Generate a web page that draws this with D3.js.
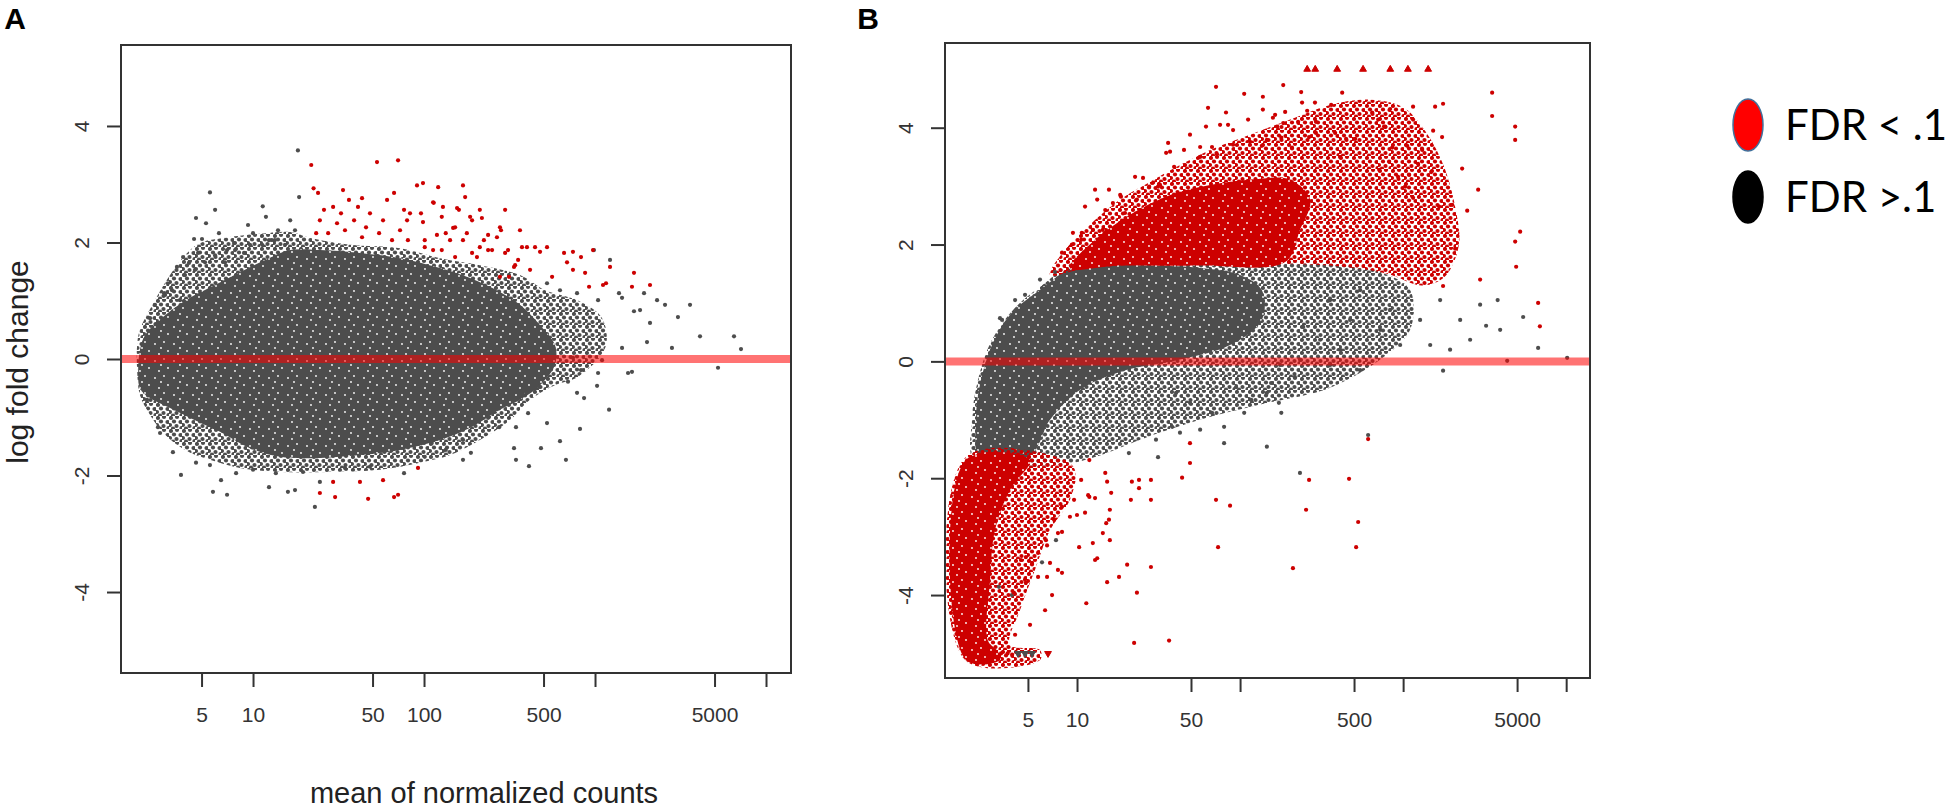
<!DOCTYPE html>
<html>
<head>
<meta charset="utf-8">
<script src="https://cdn.jsdelivr.net/npm/d3@7"></script>
<style>
  body { margin: 0; background: #fff; }
  svg { display: block; }
</style>
</head>
<body>
<div id="chart"></div>
<script>
// axis values
const x_ticks = [5, 10, 50, 100, 500, 1000, 5000, 10000];
const x_labels_a = [5, 10, 50, 100, 500, 5000];
const x_labels_b = [5, 10, 50, 500, 5000];
const y_ticks = [-4, -2, 0, 2, 4];

// panel A: [mean count, log fold change]
const a_gray_outer = [[2.18,0.50],[2.67,1.01],[3.27,1.44],[4.0,1.78],[4.9,1.99],[6.86,2.08],[11,2.15],[16.5,2.18],
  [21.5,2.08],[36.9,1.96],[72.4,1.90],[124,1.73],[212,1.61],[364,1.44],[510,1.18],[800,1.0],[1100,0.7],[1150,0.2],
  [800,-0.3],[583,-0.45],[417,-0.70],[318,-1.05],[212,-1.39],[142,-1.65],[94.7,-1.78],[55.3,-1.90],[28.2,-1.94],
  [14.4,-1.94],[8.39,-1.87],[5.6,-1.73],[4.0,-1.56],[3.06,-1.30],[2.5,-0.96],[2.18,-0.62],[2.1,-0.19],[2.1,0.24]];
const a_gray_core = [[2.34,0.41],[3.06,0.75],[4.28,1.05],[6.0,1.27],[8.39,1.49],[11.8,1.70],[16.5,1.87],[24.6,1.87],
  [42.2,1.82],[72.4,1.73],[124,1.56],[186,1.39],[278,1.15],[364,0.93],[477,0.58],[583,0.24],[583,-0.10],[477,-0.45],
  [364,-0.70],[278,-0.87],[186,-1.18],[124,-1.39],[72.4,-1.56],[42.2,-1.65],[24.6,-1.70],[14.4,-1.68],[9.6,-1.53],
  [6.41,-1.25],[4.58,-1.05],[3.27,-0.84],[2.5,-0.67],[2.18,-0.50],[2.13,-0.22],[2.18,0.15]];
const a_gray_points = [[18.3,3.58],[5.6,2.86],[18.6,2.78],[11.4,2.62],[6.0,2.56],[4.64,2.42],[5.31,2.33],[11.9,2.44],
  [9.35,2.30],[6.32,2.16],[4.52,2.06],[5.03,2.06],[3.9,1.75],[7.74,1.99],[10,2.16],[14,2.21],[16.5,2.38],[17.6,2.21],
  [986,1.87],[1224,1.70],[1935,1.13],[2306,1.01],[3.18,1.30],[3.02,1.13],[3.59,1.58],[4.22,1.65],[4.77,1.82],
  [7.05,1.87],[8.86,1.82],[12.4,2.04],[524,1.30],[624,1.18],[785,1.13],[1042,1.01],[1381,1.13],[1834,0.84],
  [5240,-0.15],[6500,0.39],[7140,0.17],[3594,0.93],[3055,0.72],[4112,0.39],[2097,0.62],[2567,0.93],[1690,0.82],
  [1439,1.05],[2014,0.29],[2818,0.19],[1560,-0.24],[1028,-0.46],[1208,-0.87],[863,-0.67],[817,-1.20],[676,-1.73],
  [624,-1.41],[524,-1.10],[483,-1.53],[411,-1.84],[345,-1.73],[1439,0.19],[1645,-0.22],[395,-0.58],[471,-0.48],
  [695,-0.39],[785,-0.58],[828,-0.19],[336,-1.53],[406,-0.93],[275,-1.17],[345,-1.17],[169,-1.73],[298,-0.75],
  [237,-1.01],[524,-0.24],[1042,-0.24],[1099,-0.02],[743,0.02],[561,0.02],[3.79,-1.99],[5.83,-2.28],[7.05,-2.33],
  [6.5,-2.08],[12.4,-2.20],[16,-2.28],[17.6,-2.25],[23,-2.54],[2.78,-1.17],[2.86,-1.27],[3.4,-1.60],[4.64,-1.78],
  [5.6,-1.82],[7.96,-1.96],[10,-1.90],[13.6,-1.96],[19.6,-1.94],[24.6,-2.11],[34.5,-1.87],[48.3,-1.85],[76.4,-1.96],
  [101,-1.68],[134,-1.56],[169,-1.39],[188,-1.61],[111,-1.44],[2.4,-0.70],[2.34,-0.53],[2.5,0.70],[2.67,0.93],
  [3.06,1.10],[3.36,1.18],[3.74,1.01],[4.0,1.44],[4.58,1.53],[5.24,1.66],[6.0,1.78],[6.86,1.66],[7.85,1.87],
  [9.6,1.96],[11.3,1.96],[13.4,2.04],[15.4,1.96]];
const a_red_points = [[21.9,3.33],[22.6,2.93],[24,2.85],[53.1,3.38],[70.5,3.41],[91,2.98],[121,2.95],[169,2.98],
  [174,2.78],[33.6,2.90],[36.4,2.73],[43.4,2.76],[60.8,2.73],[66.8,2.85],[26,2.56],[29.4,2.61],[32.7,2.50],[41.1,2.61],
  [48.3,2.50],[76.4,2.56],[96,2.50],[114,2.68],[160,2.56],[212,2.56],[298,2.56],[127,2.44],[24.6,2.38],[31,2.33],
  [39,2.38],[45.8,2.26],[57.6,2.38],[72.4,2.21],[98.6,2.35],[152,2.26],[191,2.38],[282,2.21],[364,2.21],[23.4,2.16],
  [27.5,2.16],[34.5,2.21],[43.4,2.09],[54.6,2.16],[65,2.04],[80.5,2.04],[101,2.04],[134,2.16],[169,2.04],[224,2.04],
  [267,2.09],[374,1.92],[446,1.92],[524,1.92],[101,1.92],[127,1.87],[152,1.75],[191,1.82],[237,1.87],[298,1.82],
  [355,1.70],[659,1.82],[828,1.75],[1224,1.58],[1690,1.48],[2097,1.27],[875,1.48],[336,1.58],[417,1.53],[314,1.41],
  [561,1.41],[743,1.53],[923,1.24],[1160,1.30],[1645,1.24],[98.6,3.02],[113,2.69],[129,2.61],[156,2.59],[82.8,2.50],
  [186,2.44],[218,2.42],[79.6,2.38],[148,2.25],[278,2.26],[119,2.13],[178,2.16],[237,2.13],[142,2.04],[212,1.92],
  [250,1.87],[310,1.87],[400,1.92],[477,1.84],[743,1.84],[113,1.87],[204,1.75],[341,1.61],[686,1.66],[973,1.87],
  [1114,1.27],[278,1.41],
  [29.4,-2.11],[30.2,-2.37],[24.6,-2.30],[42.2,-2.11],[47.1,-2.40],[57.6,-2.08],[66.8,-2.37],[70.5,-2.33],[92.2,-1.87]];

// panel B
const b_gray_outer = [[9.31,1.67],[28,1.70],[115,1.70],[357,1.67],[723,1.53],[1104,1.22],[1104,0.54],[723,0.03],
  [357,-0.45],[133,-0.74],[56.9,-1.00],[24.4,-1.34],[13.8,-1.61],[7.86,-1.77],[2.37,-1.72],[2.27,-1.00],[2.47,-0.32],
  [3.01,0.37],[4.17,0.92],[6.37,1.34]];
const b_gray_core = [[10.1,1.64],[28,1.64],[56.9,1.60],[100,1.48],[136,1.22],[136,0.71],[86.8,0.28],[42.8,0.03],
  [18.4,-0.18],[10.4,-0.49],[6.83,-1.00],[5.15,-1.61],[2.54,-1.65],[2.40,-1.00],[2.54,-0.40],[3.01,0.28],[3.88,0.80],
  [5.93,1.22]];
const b_red_outer = [[6.83,1.48],[8.44,1.91],[12,2.34],[18.4,2.77],[28,3.07],[42.8,3.36],[65.5,3.62],[115,3.88],
  [203,4.14],[357,4.39],[628,4.48],[1000,4.35],[1400,3.9],[1800,3.3],[2100,2.6],[2200,2.0],[1800,1.45],[1300,1.30],
  [800,1.50],[357,1.64],[115,1.67],[28,1.67],[10.4,1.57]];
const b_red_core = [[9.05,1.60],[12.9,2.08],[21.1,2.51],[37.2,2.85],[65.5,3.02],[115,3.11],[203,3.11],[269,2.77],
  [233,2.25],[189,1.70],[56.9,1.64],[18.4,1.64]];
const b_red_low_outer = [[2.06,-1.65],[7.86,-1.65],[9.72,-1.86],[9.05,-2.37],[6.83,-2.89],[5.52,-3.57],[4.47,-4.26],
  [3.88,-4.85],[5.93,-4.94],[5.93,-5.11],[2.06,-5.11]];
const b_red_low_core = [[2.08,-1.69],[5.15,-1.69],[3.88,-2.20],[3.14,-2.89],[2.93,-3.74],[2.84,-4.78],[3.28,-4.97],
  [3.37,-5.11],[2.08,-5.11]];
const b_gray_points = [[146,-1.46],[173,-0.71],[146,-0.54],[79.8,-1.40],[79.8,-1.12],[56.9,-1.17],[42.8,-1.22],
  [38.3,-1.12],[31.4,-1.64],[20.8,-1.57],[30.5,-1.34],[67.3,-0.88],[106,-0.88],[117,-0.66],[179,-0.88],[49.3,-0.71],
  [40.5,-0.54],[94.5,-0.44],[155,-0.37],[217,-0.27],[244,0.59],[3.67,0.63],[3.47,0.71],[2.80,-0.44],[1758,-0.16],
  [3228,0.61],[5447,0.76],[2966,0.97],[6730,0.23],[4347,0.01],[10140,0.06],[610,-1.26],[233,-1.91],[357,1.05],
  [473,0.71],[545,1.22],[832,0.88],[1271,0.71],[1687,1.05],[2238,0.71],[2576,0.37],[1466,0.28],[959,0.28],[723,0.54],
  [410,0.20],[310,0.37],[233,0.03],[545,-0.15],[357,-0.06],[176,-0.06],[3937,0.54],[1941,0.20],[3800,1.05],
  [7.43,-3.06],[6.10,-3.44],[3.32,-3.86],[3.99,-4.0],[5.93,1.40],[7.33,1.53],[4.80,1.14],[4.17,1.05],[3.37,0.74]];
const b_red_points = [[71.2,4.70],[106,4.58],[138,4.53],[184,4.73],[63.6,4.34],[82,4.26],[112,4.14],[164,4.22],
  [61.8,4.02],[84.4,4.05],[49.3,3.88],[56.9,3.67],[67.3,3.67],[36.2,3.74],[45.3,3.62],[35.2,3.57],[39.4,3.33],
  [22.7,3.16],[27.7,2.99],[31.4,2.99],[15.7,2.94],[12.9,2.94],[13.3,2.77],[14.9,2.59],[11.2,2.65],[18.6,2.82],
  [9.44,2.20],[8.09,1.86],[10.6,2.08],[12.5,2.25],[19.7,2.54],[23.3,2.77],[29.3,3.06],[138,4.31],[189,4.27],
  [37.2,3.59],[25.4,3.14],[32.3,3.02],[18.4,2.85],[10.7,2.20],[9.31,2.00],[14.4,2.25],[16.6,2.71],[46,3.36],
  [56.9,3.50],[72.2,3.54],[90.6,3.71],[115,3.76],[146,3.79],[169,4.02],[90.6,3.96],[75.4,4.05],[237,4.61],[423,4.60],
  [3515,4.60],[3515,4.20],[240,4.43],[288,4.43],[362,4.39],[258,4.29],[159,4.17],[184,4.08],[227,4.10],[292,4.10],
  [646,4.26],[703,4.14],[776,4.02],[832,4.32],[1151,4.36],[1151,4.14],[1571,4.36],[1528,3.95],[1734,3.84],
  [383,3.91],[447,3.81],[508,3.81],[292,3.91],[265,3.84],[179,3.83],[857,3.66],[1059,3.69],[1309,3.62],[410,3.50],
  [208,3.66],[136,3.69],[820,3.42],[1236,3.38],[2301,3.30],[764,4.02],[1089,3.19],[1486,3.24],[2886,2.94],
  [1663,2.65],[1999,2.68],[1151,2.80],[5222,2.22],[1029,2.99],[931,3.16],[713,3.28],[4934,1.62],[4866,2.05],
  [4866,4.02],[4866,3.79],[1758,4.41],[2472,2.58],[2085,1.93],[2966,1.40],[1758,1.29],[6730,1.0],[6900,0.6],
  [49.3,-1.40],[49.3,-1.74],[44.1,-1.99],[28.4,-2.03],[24,-2.03],[24,-2.17],[21.4,-2.37],[28.4,-2.37],[71.2,-2.37],
  [86.8,-2.47],[73.3,-3.18],[265,-2.03],[20.3,-3.48],[28.4,-3.52],[18.1,-3.69],[15.3,-3.78],[23.3,-3.96],
  [15.7,-2.71],[14.4,-2.94],[12.5,-3.11],[10.3,-3.18],[13.3,-3.37],[11.2,-2.59],[16.2,-2.25],[15.3,-2.06],
  [14.9,-1.91],[11.9,-1.69],[10.6,-2.03],[11.9,-2.32],[9.59,-2.37],[8.09,-2.49],[9.05,-2.66],[7.23,-2.71],
  [7.64,-2.94],[6.45,-3.06],[5.77,-3.28],[4.86,-3.35],[6.83,-3.45],[8.09,-3.62],[5.77,-3.69],[4.86,-3.79],
  [7.03,-4.0],[4.10,-3.96],[11.4,-4.14],[12.9,-3.40],[15.9,-3.06],[15.1,-2.77],[15.9,-2.54],[10,-2.63],[8.09,-2.92],
  [7.64,-3.57],[6.55,-3.69],[4.80,-3.74],[5.30,-3.45],[4.53,-3.40],[6.55,-3.15],[11.7,-2.29],[12.9,-2.34],
  [21.7,-2.06],[22.4,-4.82],[36.7,-4.78],[610,-1.33],[466,-2.01],[530,-2.75],[515,-3.18],[254,-2.54],[211,-3.54],
  [5.15,-4.51],[6.37,-4.26],[4.17,-4.68],[3.42,-5.0],[3.75,-5.0],[4.0,-5.02]];
// points beyond the y limits (drawn as triangles at the border value)
const b_red_top_tri = [[258,5],[289,5],[394,5],[568,5],[834,5],[1070,5],[1424,5]];
const b_gray_bottom_tri = [[4.35,-5],[4.8,-5],[5.3,-5]];
const b_red_bottom_tri = [[6.64,-5]];

const legend_items = [
    {label: 'FDR < .1', color: '#ff0000'},
    {label: 'FDR >.1', color: '#000000'}
];

const gray_color = '#4d4d4d';
const red_color = '#cd0000';
const axes_color = '#333';

const svg = d3.select('#chart').append('svg')
    .attr('width', 1950)
    .attr('height', 811);

// speckle textures so the dense clouds read like overplotted dots
const defs = svg.append('defs');
function speckle(id, color) {
    const pat = defs.append('pattern')
        .attr('id', id)
        .attr('patternUnits', 'userSpaceOnUse')
        .attr('width', 13)
        .attr('height', 13);
    [[2,2],[8,1],[5,5.5],[11.5,6],[1,9],[7.5,10],[12.5,12],[4,12.5]].forEach(c => {
        pat.append('circle').attr('cx', c[0]).attr('cy', c[1]).attr('r', 2.1).attr('fill', color);
    });
}
speckle('speckle_gray', gray_color);
speckle('speckle_red', red_color);
const holes = defs.append('pattern')
    .attr('id', 'holes')
    .attr('patternUnits', 'userSpaceOnUse')
    .attr('width', 19)
    .attr('height', 17);
[[3,4],[12,2],[16,11],[7,14],[9,8]].forEach(c => {
    holes.append('circle').attr('cx', c[0]).attr('cy', c[1]).attr('r', 0.9).attr('fill', '#fff');
});

function draw_panel(p) {
    const x_scale = d3.scaleLog().domain(p.x_domain).range([p.left, p.right]);
    const y_scale = d3.scaleLinear().domain(p.y_domain).range([p.bottom, p.top]);
    const g = svg.append('g');

    const area = d3.line()
        .x(d => x_scale(d[0]))
        .y(d => y_scale(d[1]))
        .curve(d3.curveCatmullRomClosed.alpha(0.5));

    // dense clouds: outer envelope speckled, core solid
    p.clouds.forEach(c => {
        const path = g.append('path').attr('d', area(c.data));
        if (c.core) {
            path.attr('fill', c.color);
            g.append('path').attr('d', area(c.data)).attr('fill', 'url(#holes)');
        } else {
            path.attr('fill', c.color === red_color ? 'url(#speckle_red)' : 'url(#speckle_gray)');
        }
    });

    const draw_points = (data, color) => {
        g.append('g').selectAll('circle')
            .data(data)
            .enter()
            .append('circle')
            .attr('cx', d => x_scale(d[0]))
            .attr('cy', d => y_scale(d[1]))
            .attr('r', 2.1)
            .attr('fill', color);
    };
    p.points.forEach(s => draw_points(s.data, s.color));

    p.triangles.forEach(t => {
        g.append('g').selectAll('path')
            .data(t.data)
            .enter()
            .append('path')
            .attr('d', d3.symbol(d3.symbolTriangle, 20))
            .attr('transform', d => `translate(${x_scale(d[0])},${y_scale(d[1])})rotate(${t.down ? 180 : 0})`)
            .attr('fill', t.color)
            .attr('stroke', t.color)
            .attr('stroke-width', 1);
    });

    // zero reference line
    g.append('line')
        .attr('x1', p.left)
        .attr('x2', p.right)
        .attr('y1', y_scale(0))
        .attr('y2', y_scale(0))
        .attr('stroke', '#ff0000')
        .attr('stroke-opacity', 0.55)
        .attr('stroke-width', 8);

    // frame
    g.append('rect')
        .attr('x', p.left)
        .attr('y', p.top)
        .attr('width', p.right - p.left)
        .attr('height', p.bottom - p.top)
        .attr('fill', 'none')
        .attr('stroke', axes_color)
        .attr('stroke-width', 2);

    const x_axis = d3.axisBottom(x_scale)
        .tickValues(x_ticks)
        .tickSize(14)
        .tickSizeOuter(0)
        .tickPadding(20)
        .tickFormat(d => p.x_labels.includes(d) ? d : '');
    const xg = g.append('g')
        .attr('transform', `translate(0,${p.bottom})`)
        .call(x_axis);
    xg.select('.domain').remove();
    xg.selectAll('line').attr('stroke', axes_color).attr('stroke-width', 2);
    xg.selectAll('text')
        .attr('fill', '#333')
        .style('font-family', '"Liberation Sans", Arial, sans-serif')
        .style('font-size', '21px');

    const y_axis = d3.axisLeft(y_scale)
        .tickValues(y_ticks)
        .tickSize(14)
        .tickSizeOuter(0)
        .tickFormat(d => String(d));
    const yg = g.append('g')
        .attr('transform', `translate(${p.left},0)`)
        .call(y_axis);
    yg.select('.domain').remove();
    yg.selectAll('line').attr('stroke', axes_color).attr('stroke-width', 2);
    yg.selectAll('text')
        .attr('x', null)
        .attr('text-anchor', 'middle')
        .attr('transform', 'translate(-39,0)rotate(-90)')
        .attr('dy', '0.35em')
        .attr('fill', '#333')
        .style('font-family', '"Liberation Sans", Arial, sans-serif')
        .style('font-size', '21px');

    svg.append('text')
        .attr('x', p.letter_x)
        .attr('y', 29)
        .attr('text-anchor', 'middle')
        .style('font-family', '"Liberation Sans", Arial, sans-serif')
        .style('font-weight', 'bold')
        .style('font-size', '30px')
        .text(p.letter);
}

draw_panel({
    letter: 'A', letter_x: 15,
    left: 121, right: 791, top: 45, bottom: 673,
    x_domain: [1.69, 14000], y_domain: [-5.39, 5.39],
    x_labels: x_labels_a,
    clouds: [
        {data: a_gray_outer, color: gray_color},
        {data: a_gray_core, color: gray_color, core: true}
    ],
    points: [
        {data: a_gray_points, color: gray_color},
        {data: a_red_points, color: red_color}
    ],
    triangles: []
});

draw_panel({
    letter: 'B', letter_x: 868,
    left: 945, right: 1590, top: 43, bottom: 678,
    x_domain: [1.55, 14000], y_domain: [-5.42, 5.45],
    x_labels: x_labels_b,
    clouds: [
        {data: b_gray_outer, color: gray_color},
        {data: b_gray_core, color: gray_color, core: true},
        {data: b_red_outer, color: red_color},
        {data: b_red_core, color: red_color, core: true},
        {data: b_red_low_outer, color: red_color},
        {data: b_red_low_core, color: red_color, core: true}
    ],
    points: [
        {data: b_gray_points, color: gray_color},
        {data: b_red_points, color: red_color}
    ],
    triangles: [
        {data: b_red_top_tri, color: red_color, down: false},
        {data: b_gray_bottom_tri, color: gray_color, down: true},
        {data: b_red_bottom_tri, color: red_color, down: true}
    ]
});

// axis titles
svg.append('text')
    .attr('transform', 'translate(17,362)rotate(-90)')
    .attr('text-anchor', 'middle')
    .attr('dy', '0.35em')
    .attr('fill', '#222')
    .style('font-family', '"Liberation Sans", Arial, sans-serif')
    .style('font-size', '30px')
    .text('log fold change');

svg.append('text')
    .attr('x', 484)
    .attr('y', 803)
    .attr('text-anchor', 'middle')
    .attr('fill', '#222')
    .style('font-family', '"Liberation Sans", Arial, sans-serif')
    .style('font-size', '29px')
    .text('mean of normalized counts');

// legend
const legend = svg.append('g')
    .selectAll('g')
    .data(legend_items)
    .enter()
    .append('g')
    .attr('transform', (d, i) => `translate(1748,${125 + i * 72})`);

legend.append('ellipse')
    .attr('rx', 15)
    .attr('ry', 26)
    .attr('fill', d => d.color)
    .attr('stroke', d => d.color === '#000000' ? '#000' : '#41719c')
    .attr('stroke-width', 1.5);

legend.append('text')
    .attr('x', 37)
    .attr('dy', '0.35em')
    .attr('fill', '#000')
    .style('font-family', 'Lato, "Open Sans", sans-serif')
    .style('font-size', '42px')
    .text(d => d.label);
</script>
</body>
</html>
